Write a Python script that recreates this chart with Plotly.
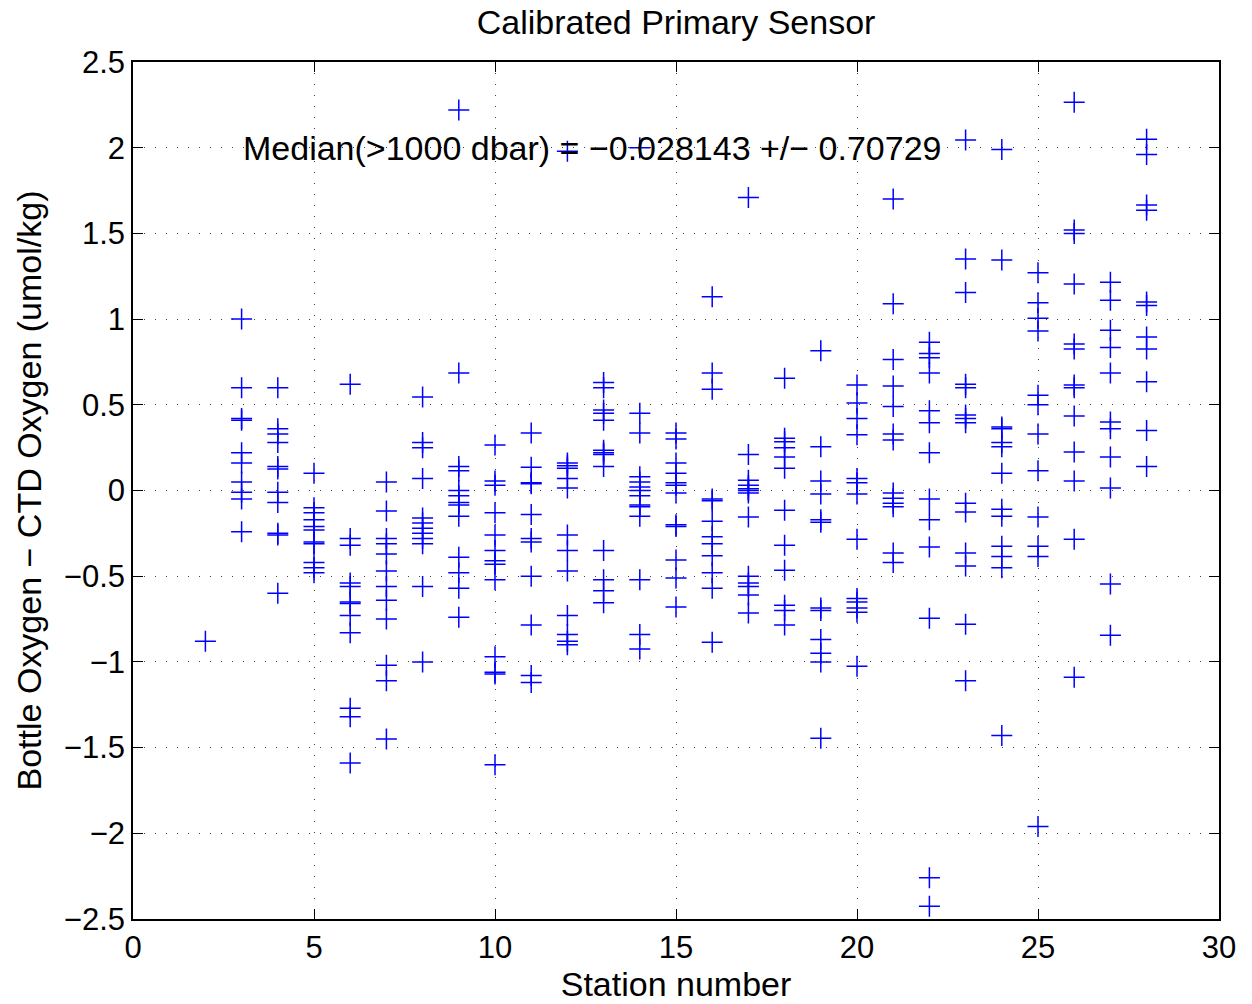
import plotly.graph_objects as go

# Bottle - CTD oxygen differences per station (umol/kg)
st02 = [-0.88]
st03 = [1.0, 0.6, 0.42, 0.41, 0.22, 0.16, 0.05, -0.01, -0.05, -0.24]
st04 = [0.60, 0.36, 0.33, 0.28, 0.14, 0.125, -0.01, -0.07, -0.25, -0.26, -0.60]
st05 = [0.10, -0.10, -0.13, -0.17, -0.21, -0.23, -0.30, -0.31, -0.42, -0.45, -0.48]
st06 = [0.62, -0.28, -0.32, -0.54, -0.56, -0.65, -0.66, -0.73, -0.83, -1.27, -1.32, -1.59]
st07 = [0.05, -0.12, -0.28, -0.31, -0.37, -0.47, -0.56, -0.64, -0.75, -1.02, -1.11, -1.45]
st08 = [0.545, 0.28, 0.25, 0.07, -0.16, -0.19, -0.22, -0.25, -0.28, -0.31, -0.56, -1.0]
st09 = [2.22, 0.685, 0.14, 0.115, 0.0, -0.03, -0.07, -0.085, -0.15, -0.39, -0.48, -0.57, -0.74]
st10 = [0.265, 0.055, 0.03, -0.13, -0.26, -0.35, -0.41, -0.43, -0.52, -0.97, -1.06, -1.07, -1.60]
st11 = [0.335, 0.135, 0.045, 0.04, -0.14, -0.28, -0.30, -0.50, -0.785, -1.08, -1.12]
st12 = [1.98, 0.16, 0.145, 0.13, 0.07, 0.015, -0.26, -0.35, -0.47, -0.73, -0.84, -0.88, -0.90]
st13 = [0.63, 0.60, 0.47, 0.45, 0.41, 0.235, 0.22, 0.21, 0.14, -0.35, -0.52, -0.585, -0.655]
st14 = [2.0, 0.45, 0.335, 0.08, 0.05, 0.02, 0.0, -0.03, -0.085, -0.095, -0.15, -0.52, -0.84, -0.925]
st15 = [0.335, 0.30, 0.16, 0.10, 0.045, 0.03, -0.015, -0.20, -0.21, -0.405, -0.51, -0.68]
st16 = [1.13, 0.685, 0.59, -0.05, -0.06, -0.18, -0.27, -0.31, -0.38, -0.48, -0.57, -0.885]
st17 = [1.71, 0.21, 0.06, 0.03, 0.01, 0.0, -0.015, -0.155, -0.50, -0.54, -0.56, -0.61, -0.715]
st18 = [0.655, 0.305, 0.285, 0.25, 0.195, 0.13, -0.115, -0.32, -0.465, -0.67, -0.70, -0.785]
st19 = [0.815, 0.255, 0.055, -0.02, -0.17, -0.185, -0.685, -0.70, -0.87, -0.95, -1.0, -1.445]
st20 = [0.615, 0.51, 0.42, 0.325, 0.07, 0.045, -0.02, -0.285, -0.63, -0.65, -0.685, -0.71, -1.025]
st21 = [1.70, 1.09, 0.765, 0.61, 0.49, 0.33, 0.295, -0.015, -0.045, -0.075, -0.095, -0.365, -0.42]
st22 = [0.865, 0.80, 0.775, 0.685, 0.465, 0.395, 0.22, -0.05, -0.17, -0.33, -0.745, -2.26, -2.425]
st23 = [2.045, 1.35, 1.155, 0.62, 0.60, 0.44, 0.42, 0.395, -0.075, -0.125, -0.365, -0.44, -0.78, -1.11]
st24 = [1.99, 1.345, 0.37, 0.36, 0.28, 0.255, 0.10, -0.11, -0.15, -0.325, -0.385, -0.45, -1.43]
st25 = [1.27, 1.095, 1.005, 0.93, 0.555, 0.50, 0.33, 0.115, -0.155, -0.325, -0.385, -1.96]
st26 = [2.265, 1.52, 1.50, 1.205, 0.855, 0.825, 0.615, 0.60, 0.435, 0.225, 0.055, -0.285, -1.09]
st27 = [1.215, 1.11, 0.935, 0.835, 0.685, 0.40, 0.36, 0.195, 0.015, -0.545, -0.845]
st28 = [2.05, 1.96, 1.665, 1.635, 1.10, 1.08, 0.895, 0.825, 0.635, 0.35, 0.14]

station_numbers = list(range(2, 29))
station_values = [st02, st03, st04, st05, st06, st07, st08, st09, st10, st11, st12, st13,
                  st14, st15, st16, st17, st18, st19, st20, st21, st22, st23, st24, st25,
                  st26, st27, st28]

x_ticks = [0, 5, 10, 15, 20, 25, 30]
y_ticks = [-2.5, -2, -1.5, -1, -0.5, 0, 0.5, 1, 1.5, 2, 2.5]
y_tick_text = ["\u22122.5", "\u22122", "\u22121.5", "\u22121", "\u22120.5", "0",
               "0.5", "1", "1.5", "2", "2.5"]

title_text = "Calibrated Primary Sensor"
x_label = "Station number"
y_label = "Bottle Oxygen \u2212 CTD Oxygen (umol/kg)"
median_text = "Median(>1000 dbar) = \u22120.028143 +/\u2212 0.70729"

xs, ys = [], []
for s, vals in zip(station_numbers, station_values):
    for v in vals:
        xs.append(s)
        ys.append(v)

FONT = "Liberation Sans, Arial, Helvetica, sans-serif"

fig = go.Figure()
fig.add_trace(go.Scatter(
    x=xs, y=ys, mode="markers",
    marker=dict(symbol="cross-thin", size=15, color="blue",
                line=dict(width=1.5, color="blue")),
    showlegend=False, hoverinfo="x+y"))

axis_common = dict(
    showline=True, linecolor="black", linewidth=1.5, mirror="ticks",
    ticks="inside", ticklen=10, tickwidth=1, tickcolor="black",
    showgrid=True, gridcolor="#444", gridwidth=1, griddash="1px,10px",
    zeroline=False, automargin=False,
    tickfont=dict(family=FONT, size=31, color="black"),
)

fig.update_xaxes(range=[0, 30], tickvals=x_ticks,
                 title=dict(text=x_label, font=dict(family=FONT, size=34, color="black"), standoff=4),
                 **axis_common)
fig.update_yaxes(range=[-2.5, 2.5], tickvals=y_ticks, ticktext=y_tick_text,
                 title=dict(text=y_label, font=dict(family=FONT, size=34, color="black"), standoff=12),
                 **axis_common)

fig.add_annotation(x=2.97, y=2.0, xref="x", yref="y", text=median_text, showarrow=False,
                   xanchor="left", yanchor="middle",
                   font=dict(family=FONT, size=34, color="black"))

fig.update_layout(
    width=1252, height=1004,
    margin=dict(l=133, r=33, t=62, b=85),
    paper_bgcolor="white", plot_bgcolor="white",
    title=dict(text=title_text, x=0.54, xanchor="center", xref="container",
               y=1 - 22 / 1004, yanchor="middle", yref="container",
               font=dict(family=FONT, size=34, color="black")),
)

fig.write_html("out.html")
